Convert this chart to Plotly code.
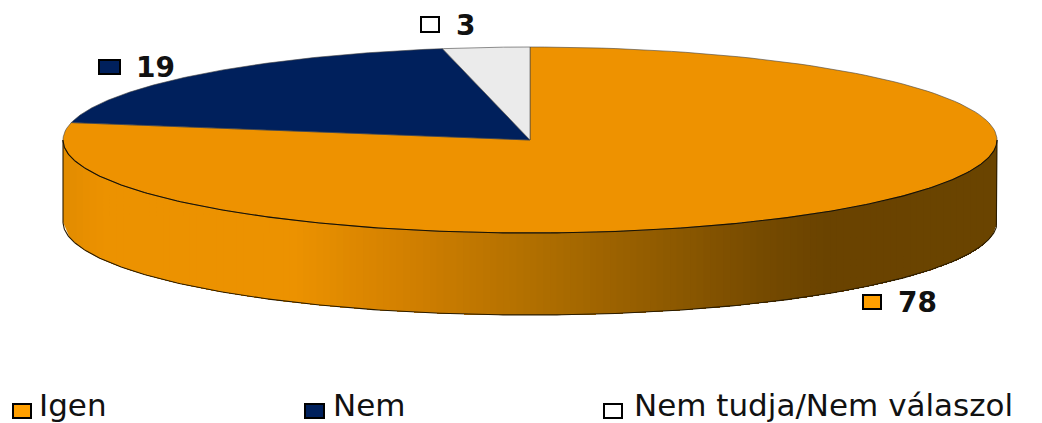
import numpy as np
import plotly.graph_objects as go

categories = ["Igen", "Nem", "Nem tudja/Nem válaszol"]
values = [78, 19, 3]
colors = ["#EE9200", "#00205C", "#EBEBEB"]
swatch_colors = ["#FF9F00", "#00205C", "#FFFFFF"]

W, H = 1042, 423
PAGE_MARGIN = 8  # the browser's default body margin
CX, CY, RX, RY, DEPTH = 530, 140, 467, 93, 82
grad_pos = [0.0, 0.04, 0.25, 0.37, 0.5, 0.75, 0.82, 1.0]
grad_rgb = [(226, 140, 0), (236, 146, 0), (236, 146, 0), (210, 128, 0),
            (178, 112, 0), (118, 75, 0), (106, 67, 0), (107, 69, 0)]

fig = go.Figure()


def wedge(a0, a1, n=160):
    t = np.linspace(a0, a1, n)
    x = np.concatenate([[CX], CX + RX * np.sin(t), [CX]])
    y = np.concatenate([[CY], CY - RY * np.cos(t), [CY]])
    return x, y


# side wall: painted left to right, each layer reaching the right end, so no seams show
n = 140
xs = np.linspace(-1, 1, n + 1)
for i in range(n):
    a = np.linspace(xs[i], 1, max(3, n - i + 1))
    top = CY + RY * np.sqrt(np.clip(1 - a**2, 0, 1))
    px = CX + RX * a
    mid = (i + 0.5) / n
    c = [int(np.interp(mid, grad_pos, [g[k] for g in grad_rgb])) for k in range(3)]
    fig.add_trace(go.Scatter(
        x=np.concatenate([px, px[::-1]]),
        y=np.concatenate([top, (top + DEPTH)[::-1]]),
        mode="none", fill="toself", fillcolor=f"rgb({c[0]},{c[1]},{c[2]})",
        hoverinfo="skip", showlegend=False))

# wall outline
t = np.linspace(np.pi / 2, 3 * np.pi / 2, 300)
ox = CX + RX * np.sin(t)
oy = CY - RY * np.cos(t) + DEPTH
fig.add_trace(go.Scatter(
    x=np.concatenate([[CX + RX], ox, [CX - RX]]),
    y=np.concatenate([[CY], oy, [CY]]),
    mode="lines", line=dict(color="#2a1c00", width=1.1), hoverinfo="skip", showlegend=False))

# top slices, clockwise from 12 o'clock
fracs = np.array(values) / sum(values) * 2 * np.pi
start = 0.0
for name, f, col in zip(categories, fracs, colors):
    x, y = wedge(start, start + f)
    fig.add_trace(go.Scatter(
        x=x, y=y, mode="lines", fill="toself", fillcolor=col, name=name,
        line=dict(color="#444444", width=0.6), showlegend=False))
    start += f

# darker front rim of the top face
fig.add_trace(go.Scatter(
    x=ox, y=oy - DEPTH, mode="lines", line=dict(color="#1a1200", width=1.1),
    hoverinfo="skip", showlegend=False))

# swatches beside data labels and legend entries: (x0, y0, x1, y1)
label_boxes = [(863, 295, 881, 309), (99, 60, 120, 74), (421, 17, 439, 32)]
legend_boxes = [(13, 404, 31, 418), (305, 404, 324, 418), (604, 404, 622, 418)]
label_text = [(896, 302), (134, 67), (454, 25)]
legend_txt = [(37, 405), (331, 405), (632, 405)]

for boxes in (label_boxes, legend_boxes):
    for box, col in zip(boxes, swatch_colors):
        fig.add_shape(type="rect", x0=box[0], y0=box[1], x1=box[2], y1=box[3],
                      fillcolor=col, line=dict(color="#000000", width=2))

for v, (x, y) in zip(values, label_text):
    fig.add_annotation(x=x, y=y, text=f"<b>{v}</b>", showarrow=False, xanchor="left", yanchor="middle",
                       font=dict(family="DejaVu Sans", size=28, color="#111111"))
for c, (x, y) in zip(categories, legend_txt):
    fig.add_annotation(x=x, y=y, text=c, showarrow=False, xanchor="left", yanchor="middle",
                       font=dict(family="DejaVu Sans", size=31, color="#111111"))

fig.update_layout(
    width=W, height=H, margin=dict(l=0, r=0, t=0, b=0),
    paper_bgcolor="white", plot_bgcolor="white", showlegend=False,
    xaxis=dict(range=[PAGE_MARGIN, W + PAGE_MARGIN], visible=False, fixedrange=True),
    yaxis=dict(range=[H + PAGE_MARGIN, PAGE_MARGIN], visible=False, fixedrange=True),
)
fig.write_html("out.html", config={"displayModeBar": False})
